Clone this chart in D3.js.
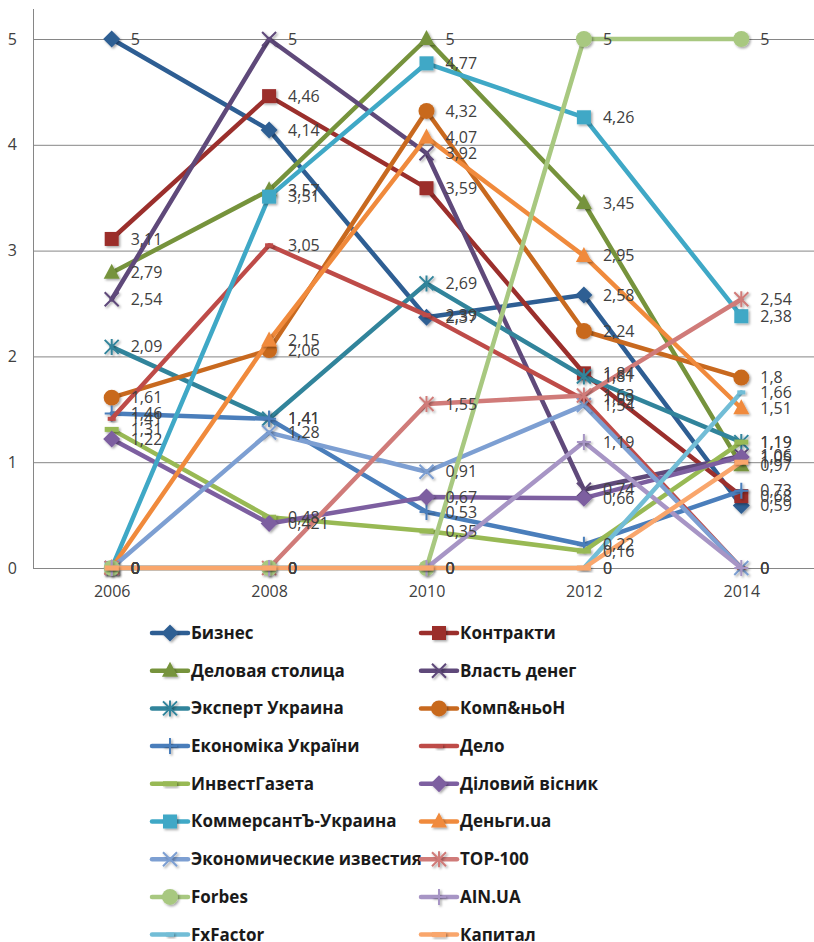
<!DOCTYPE html>
<html>
<head>
<meta charset="utf-8">
<script src="https://cdn.jsdelivr.net/npm/d3@7"></script>
<style>
  html, body { margin: 0; padding: 0; background: #fff; }
  svg { display: block; font-family: "Open Sans", "Noto Sans", sans-serif; }
</style>
</head>
<body>
<svg id="chart" width="814" height="942"></svg>
<script>
// Years on the category axis
const years = ["2006", "2008", "2010", "2012", "2014"];
const yTicks = [0, 1, 2, 3, 4, 5];

// Publication names, in legend order
const names = [
  "Бизнес", "Контракти", "Деловая столица", "Власть денег",
  "Эксперт Украина", "Комп&ньоН", "Економіка України", "Дело",
  "ИнвестГазета", "Діловий вісник", "КоммерсантЪ-Украина", "Деньги.ua",
  "Экономические известия", "TOP-100", "Forbes", "AIN.UA",
  "FxFactor", "Капитал"
];

// Scores per publication, one value per year
const biznes      = [5, 4.14, 2.37, 2.58, 0.59];
const kontrakty   = [3.11, 4.46, 3.59, 1.84, 0.68];
const delovaya    = [2.79, 3.57, 5, 3.45, 0.97];
const vlast       = [2.54, 5, 3.92, 0.74, 1.06];
const ekspert     = [2.09, 1.41, 2.69, 1.81, 1.19];
const kompanion   = [1.61, 2.06, 4.32, 2.24, 1.8];
const ekonomika   = [1.46, 1.41, 0.53, 0.22, 0.73];
const delo        = [1.41, 3.05, 2.39, 1.59, 0];
const invest      = [1.31, 0.48, 0.35, 0.16, 1.19];
const dilovyi     = [1.22, 0.421, 0.67, 0.66, 1.05];
const kommersant  = [0, 3.51, 4.77, 4.26, 2.38];
const dengi       = [0, 2.15, 4.07, 2.95, 1.51];
const izvestia    = [0, 1.28, 0.91, 1.54, 0];
const top100      = [0, 0, 1.55, 1.63, 2.54];
const forbes      = [0, 0, 0, 5, 5];
const ainua       = [0, 0, 0, 1.19, 0];
const fxfactor    = [0, 0, 0, 0, 1.66];
const kapital     = [0, 0, 0, 0, 1];

const seriesValues = [
  biznes, kontrakty, delovaya, vlast, ekspert, kompanion, ekonomika, delo,
  invest, dilovyi, kommersant, dengi, izvestia, top100, forbes, ainua,
  fxfactor, kapital
];

const colors = [
  "#2E5E93", "#9B2F2C", "#76933C", "#5F497A", "#31849B", "#C8691F",
  "#4A7EBB", "#BE4B48", "#98B954", "#7D5FA0", "#3FA8C6", "#F08A3C",
  "#7D9FD2", "#D07B79", "#A8C880", "#A795C5", "#72BDD6", "#F9A66C"
];

const markers = [
  "diamond", "square", "triangle", "x", "star", "circle", "plus", "dash",
  "bar", "diamond", "square", "triangle", "x", "star", "circle", "plus",
  "dash", "bar"
];

const series = names.map((n, i) => ({
  name: n, color: colors[i], marker: markers[i],
  values: seriesValues[i].map((v, j) => ({ year: years[j], value: v }))
}));

const svg = d3.select("#chart");

// Drop shadow for markers
const defs = svg.append("defs");
const f = defs.append("filter").attr("id", "shadow")
  .attr("x", "-50%").attr("y", "-50%").attr("width", "200%").attr("height", "200%");
f.append("feDropShadow").attr("dx", 1.5).attr("dy", 1.5)
  .attr("stdDeviation", 1.2).attr("flood-color", "#000").attr("flood-opacity", 0.35);

const plotLeft = 33, plotRight = 820, plotTop = 9, plotBottom = 568;

const x = d3.scalePoint().domain(years).range([plotLeft, plotRight]).padding(0.5);
const y = d3.scaleLinear().domain([0, 5]).range([plotBottom, 39]);

// Horizontal gridlines + value axis
const yAxis = svg.append("g")
  .attr("transform", `translate(${plotLeft},0)`)
  .call(d3.axisLeft(y).tickValues(yTicks).tickSize(-(plotRight - plotLeft)).tickPadding(16).tickFormat(d3.format("d")));
yAxis.select(".domain").remove();
yAxis.selectAll(".tick line").attr("stroke", "#868686").attr("stroke-width", 1);
yAxis.selectAll(".tick text").attr("fill", "#404040").attr("font-size", 16)
  .attr("font-family", "Open Sans, sans-serif");

svg.append("line")
  .attr("x1", plotLeft + 0.5).attr("x2", plotLeft + 0.5)
  .attr("y1", plotTop).attr("y2", plotBottom)
  .attr("stroke", "#868686").attr("stroke-width", 1);

// Category axis labels
const xAxis = svg.append("g")
  .attr("transform", `translate(0,${plotBottom})`)
  .call(d3.axisBottom(x).tickSize(0).tickPadding(18));
xAxis.select(".domain").remove();
xAxis.selectAll(".tick text").attr("fill", "#404040").attr("font-size", 16)
  .attr("font-family", "Open Sans, sans-serif");

function drawMarker(g, type, color, cx, cy) {
  const m = g.append("g").attr("transform", `translate(${cx},${cy})`).attr("filter", "url(#shadow)");
  switch (type) {
    case "diamond":
      m.append("path").attr("d", "M0,-8.5L8.5,0L0,8.5L-8.5,0Z").attr("fill", color);
      break;
    case "square":
      m.append("rect").attr("x", -7).attr("y", -7).attr("width", 14).attr("height", 14).attr("fill", color);
      break;
    case "triangle":
      m.append("path").attr("d", "M0,-9L8,6L-8,6Z").attr("fill", color);
      break;
    case "circle":
      m.append("circle").attr("r", 8).attr("fill", color);
      break;
    case "x":
      m.append("path").attr("d", "M-7,-7L7,7M7,-7L-7,7").attr("stroke", color).attr("stroke-width", 2).attr("fill", "none");
      break;
    case "star":
      m.append("path").attr("d", "M-7,-7L7,7M7,-7L-7,7M0,-8L0,8").attr("stroke", color).attr("stroke-width", 2).attr("fill", "none");
      break;
    case "plus":
      m.append("path").attr("d", "M-7,0L7,0M0,-8L0,8").attr("stroke", color).attr("stroke-width", 2).attr("fill", "none");
      break;
    case "dash":
      m.append("rect").attr("x", -4).attr("y", -2).attr("width", 8).attr("height", 4).attr("fill", color);
      break;
    case "bar":
      m.append("rect").attr("x", -7).attr("y", -2.5).attr("width", 14).attr("height", 5).attr("fill", color);
      break;
  }
}

const line = d3.line().x(d => x(d.year)).y(d => y(d.value));

// Lines and markers, one series at a time
const plot = svg.append("g");
series.forEach(s => {
  const g = plot.append("g");
  g.append("path").datum(s.values).attr("d", line)
    .attr("fill", "none").attr("stroke", s.color).attr("stroke-width", 4.5)
    .attr("stroke-linejoin", "round").attr("stroke-linecap", "round");
  s.values.forEach(d => drawMarker(g, s.marker, s.color, x(d.year), y(d.value)));
});

// Data labels
const fmt = v => String(v).replace(".", ",");
const labels = svg.append("g");
series.forEach(s => {
  s.values.forEach(d => {
    labels.append("text")
      .attr("x", x(d.year) + 19).attr("y", y(d.value))
      .attr("dy", "0.35em")
      .attr("fill", "#404040").attr("font-size", 16)
      .text(fmt(d.value));
  });
});

// Legend: two columns
const legend = svg.append("g");
const rowY = i => 633 + i * 37.7;
series.forEach((s, i) => {
  const col = i % 2, row = Math.floor(i / 2);
  const lx = col === 0 ? 152 : 421;
  const g = legend.append("g").attr("transform", `translate(${lx},${rowY(row)})`);
  g.append("line").attr("x1", 0).attr("x2", 36).attr("y1", 0).attr("y2", 0)
    .attr("stroke", s.color).attr("stroke-width", 4.5).attr("stroke-linecap", "round");
  drawMarker(g, s.marker, s.color, 18, 0);
  g.append("text").attr("x", 39).attr("y", 0).attr("dy", "0.35em")
    .attr("fill", "#1a1a1a").attr("font-size", 17).attr("font-weight", "bold")
    .text(s.name);
});
</script>
</body>
</html>
